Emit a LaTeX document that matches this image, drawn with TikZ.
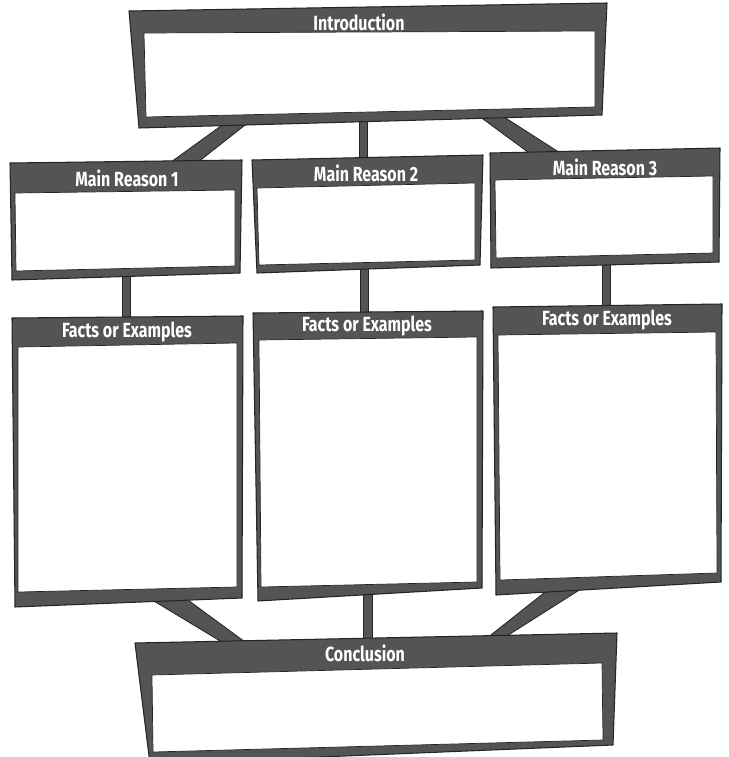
\documentclass[tikz,border=0pt]{standalone}
\usepackage{fontspec}
\setmainfont{Fira Sans}
\definecolor{boxgray}{RGB}{84,84,84}
\definecolor{boxedge}{RGB}{36,36,36}
\newcommand\hd[1]{\scalebox{0.78}[1]{#1}}
\begin{document}
\begin{tikzpicture}[x=0.03cm,y=-0.03cm,
  frame/.style={fill=boxgray,draw=boxedge,line width=0.9pt,line join=round},
  hole/.style={fill=white,draw=boxedge,line width=0.6pt,line join=round},
  link/.style={fill=boxgray,draw=boxedge,line width=0.7pt,line join=round},
  head/.style={text=white,font=\bfseries\fontsize{17.5}{17.5}\selectfont,inner sep=0pt,anchor=base}]
\useasboundingbox (0,0) rectangle (728,757);
\clip (0,0) rectangle (728,757);

% ---------- corner coordinates ----------
% Introduction
\coordinate (I1) at (129,11);  \coordinate (I2) at (607,3);
\coordinate (I3) at (602,115); \coordinate (I4) at (139,128);
\coordinate (i1) at (144,33);  \coordinate (i2) at (595,31);
\coordinate (i3) at (595,107); \coordinate (i4) at (146,117);
% Main reasons
\coordinate (A1) at (10,163);  \coordinate (A2) at (242,160);
\coordinate (A3) at (240,273); \coordinate (A4) at (12,280);
\coordinate (a1) at (15,193);  \coordinate (a2) at (235,190);
\coordinate (a3) at (235,266); \coordinate (a4) at (16,271);
\coordinate (B1) at (252,160); \coordinate (B2) at (483,155);
\coordinate (B3) at (480,265); \coordinate (B4) at (257,273);
\coordinate (b1) at (257,188); \coordinate (b2) at (475,183);
\coordinate (b3) at (475,260); \coordinate (b4) at (259,265);
\coordinate (C1) at (490,153); \coordinate (C2) at (720,148);
\coordinate (C3) at (719,262); \coordinate (C4) at (491,268);
\coordinate (c1) at (495,180); \coordinate (c2) at (713,176);
\coordinate (c3) at (713,253); \coordinate (c4) at (496,258);
% Facts
\coordinate (D1) at (12,318);  \coordinate (D2) at (243,316);
\coordinate (D3) at (242,598); \coordinate (D4) at (15,607);
\coordinate (d1) at (18,347);  \coordinate (d2) at (237,343);
\coordinate (d3) at (237,587); \coordinate (d4) at (18,592);
\coordinate (E1) at (253,313); \coordinate (E2) at (483,311);
\coordinate (E3) at (482,588); \coordinate (E4) at (258,601);
\coordinate (e1) at (259,340); \coordinate (e2) at (477,337);
\coordinate (e3) at (477,582); \coordinate (e4) at (261,587);
\coordinate (F1) at (493,307); \coordinate (F2) at (722,304);
\coordinate (F3) at (721,582); \coordinate (F4) at (496,595);
\coordinate (f1) at (498,335); \coordinate (f2) at (716,332);
\coordinate (f3) at (717,573); \coordinate (f4) at (500,580);
% Conclusion
\coordinate (K1) at (135,643); \coordinate (K2) at (617,633);
\coordinate (K3) at (613,745); \coordinate (K4) at (150,764);
\coordinate (k1) at (152,675); \coordinate (k2) at (602,663);
\coordinate (k3) at (603,740); \coordinate (k4) at (153,752);

% ---------- connectors (drawn first, boxes cover their ends) ----------
\path[link] (232,118) -- (254,118) -- (188,170) -- (160,170) -- cycle;
\path[link] (359,110) rectangle (367,166);
\path[link] (468,108) -- (490,108) -- (568,158) -- (536,158) -- cycle;
\path[link] (122,268) rectangle (130,325);
\path[link] (360,260) rectangle (368,320);
\path[link] (602,255) rectangle (610,312);
\path[link] (139,592) -- (177,592) -- (256,650) -- (235,650) -- cycle;
\path[link] (363,585) rectangle (372,646);
\path[link] (554,585) -- (592,582) -- (491,646) -- (477,646) -- cycle;

% ---------- boxes ----------
\path[frame] (I1) -- (I2) -- (I3) -- (I4) -- cycle;
\path[hole]  (i1) -- (i2) -- (i3) -- (i4) -- cycle;
\path[frame] (A1) -- (A2) -- (A3) -- (A4) -- cycle;
\path[hole]  (a1) -- (a2) -- (a3) -- (a4) -- cycle;
\path[frame] (B1) -- (B2) -- (B3) -- (B4) -- cycle;
\path[hole]  (b1) -- (b2) -- (b3) -- (b4) -- cycle;
\path[frame] (C1) -- (C2) -- (C3) -- (C4) -- cycle;
\path[hole]  (c1) -- (c2) -- (c3) -- (c4) -- cycle;
\path[frame] (D1) -- (D2) -- (D3) -- (D4) -- cycle;
\path[hole]  (d1) -- (d2) -- (d3) -- (d4) -- cycle;
\path[frame] (E1) -- (E2) -- (E3) -- (E4) -- cycle;
\path[hole]  (e1) -- (e2) -- (e3) -- (e4) -- cycle;
\path[frame] (F1) -- (F2) -- (F3) -- (F4) -- cycle;
\path[hole]  (f1) -- (f2) -- (f3) -- (f4) -- cycle;
\path[frame] (K1) -- (K2) -- (K3) -- (K4) -- cycle;
\path[hole]  (k1) -- (k2) -- (k3) -- (k4) -- cycle;

% ---------- headings ----------
\node[head] (intro) at (359,31)  {\hd{Introduction}};
\node[head] (mr1)   at (127,186) {\hd{Main Reason 1}};
\node[head] (mr2)   at (366,181) {\hd{Main Reason 2}};
\node[head] (mr3)   at (605,175) {\hd{Main Reason 3}};
\node[head] (fe1)   at (127,337) {\hd{Facts or Examples}};
\node[head] (fe2)   at (367,331) {\hd{Facts or Examples}};
\node[head] (fe3)   at (607,325) {\hd{Facts or Examples}};
\node[head] (concl) at (365,661) {\hd{Conclusion}};
\end{tikzpicture}
\end{document}
